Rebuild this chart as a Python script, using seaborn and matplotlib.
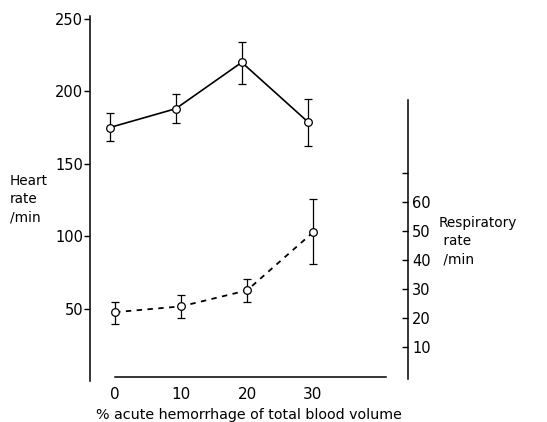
import matplotlib
matplotlib.use("Agg")
import matplotlib.pyplot as plt
import seaborn as sns
import pandas as pd

# ---- data ----
hemorrhage = [0, 10, 20, 30]
heart_rate = [175, 188, 220, 179]
heart_lo = [166, 178, 205, 162]
heart_hi = [185, 198, 234, 195]
resp_rate = [22, 24, 29.5, 49.5]
resp_lo = [18, 20, 25.5, 38.5]
resp_hi = [25.5, 28, 33.5, 61]

heart_ticks = [50, 100, 150, 200, 250]
resp_ticks = [10, 20, 30, 40, 50, 60, 70]
resp_ticklabels = ["10", "20", "30", "40", "50", "60", ""]

sns.set_theme(style="white")
plt.rcParams['font.family'] = ['DejaVu Sans']
plt.rcParams['text.color'] = 'black'
plt.rcParams['xtick.color'] = 'black'
plt.rcParams['ytick.color'] = 'black'
plt.rcParams['xtick.labelcolor'] = 'black'
plt.rcParams['ytick.labelcolor'] = 'black'
plt.rcParams['axes.labelcolor'] = 'black'

fig = plt.figure(figsize=(5.47, 4.22), dpi=100)
ax = fig.add_axes([90/547, 1 - 381/422, 318/547, 365/422])
ax.set_facecolor("white")

hdf = pd.DataFrame({"x": [h - 0.8 for h in hemorrhage], "y": heart_rate})
sns.lineplot(data=hdf, x="x", y="y", ax=ax, color="black", lw=1.2,
             marker="o", markersize=5.5, markerfacecolor="white",
             markeredgecolor="black", markeredgewidth=0.9, zorder=3)
ax.errorbar(hdf["x"], heart_rate,
            yerr=[[h - l for h, l in zip(heart_rate, heart_lo)],
                  [u - h for h, u in zip(heart_rate, heart_hi)]],
            fmt="none", ecolor="black", elinewidth=0.9, capsize=3, capthick=0.9, zorder=2)

ax.set_xlim(-3.8, 44.4)
ax.set_ylim(0, 252)
ax.set_yticks(heart_ticks)
ax.set_yticklabels([str(t) for t in heart_ticks], fontsize=10.5)
ax.set_xticks(hemorrhage)
ax.set_xticklabels([str(t) for t in hemorrhage], fontsize=10.5)
ax.set_xlabel("% acute hemorrhage of total blood volume", fontsize=10.3)
ax.set_ylabel("")
ax.xaxis.set_label_coords(0.5, -0.075)

for s in ["top", "right"]:
    ax.spines[s].set_visible(False)
for s in ["left", "bottom"]:
    ax.spines[s].set_color("black")
    ax.spines[s].set_linewidth(1.1)
ax.spines["bottom"].set_bounds(0, 41)
ax.spines["bottom"].set_position(("outward", -3))
ax.tick_params(axis="y", direction="out", length=4, width=1, color="black", pad=1)
ax.tick_params(axis="x", direction="in", length=4, width=1, color="black", pad=7)

ax2 = ax.twinx()
rdf = pd.DataFrame({"x": hemorrhage, "y": resp_rate})
sns.lineplot(data=rdf, x="x", y="y", ax=ax2, color="black", lw=1.3,
             linestyle=(0, (3, 3)),
             marker="o", markersize=5.5, markerfacecolor="white",
             markeredgecolor="black", markeredgewidth=0.9, zorder=3)
ax2.errorbar(hemorrhage, resp_rate,
             yerr=[[r - l for r, l in zip(resp_rate, resp_lo)],
                   [u - r for r, u in zip(resp_rate, resp_hi)]],
             fmt="none", ecolor="black", elinewidth=0.9, capsize=3, capthick=0.9, zorder=2)
ax2.set_ylim(-1.7, 124)
ax2.set_yticks(resp_ticks)
ax2.set_yticklabels(resp_ticklabels, fontsize=10.5)
ax2.set_ylabel("")
ax2.set_xlim(-3.8, 44.4)
for s in ["top", "left", "bottom"]:
    ax2.spines[s].set_visible(False)
ax2.spines["right"].set_color("black")
ax2.spines["right"].set_linewidth(1.1)
ax2.spines["right"].set_bounds(-1, 95)
ax2.tick_params(axis="y", direction="in", length=4, width=1, color="black", pad=3)
ax2.grid(False)
ax.grid(False)

fig.text(10/547, 1 - 199/422, "Heart\nrate\n/min", fontsize=9.8, va="center",
         ha="left", linespacing=1.4)
fig.text(439/547, 1 - 241/422, "Respiratory\n rate\n /min", fontsize=9.8, va="center",
         ha="left", linespacing=1.4)

fig.savefig("out.png", dpi=100, facecolor="white")
